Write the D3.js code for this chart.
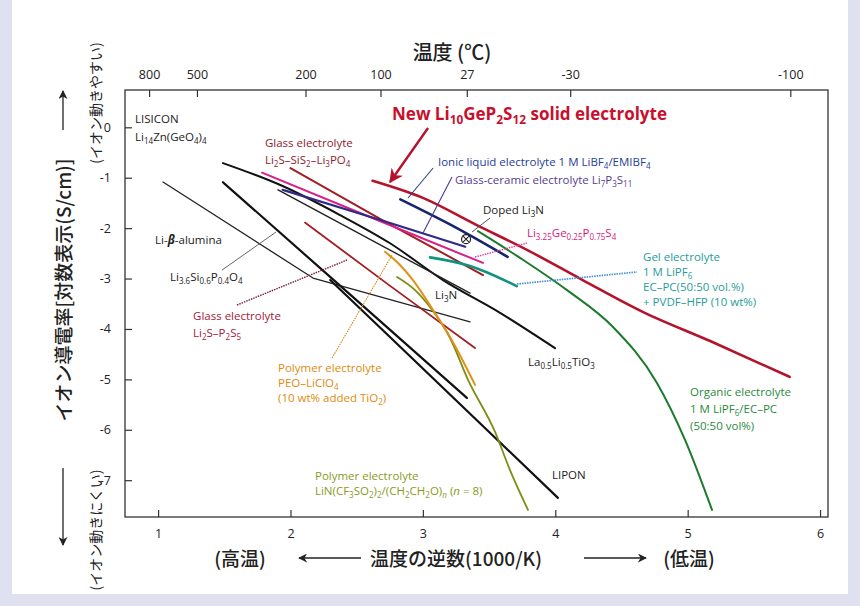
<!DOCTYPE html>
<html>
<head>
  <meta charset="utf-8"/>
  <title>Li conductivity</title>
  <style>
    body { margin: 0; background: #dfe1f1; }
    text { font-family: "Open Sans", "Noto Sans", sans-serif; }
    .jp { font-family: "Noto Sans CJK JP", sans-serif; }
  </style>
</head>
<body>
<div id="graph"></div>
<script src="https://cdn.jsdelivr.net/npm/d3@7/dist/d3.min.js"></script>
<script>
// axis ticks
var xTicks = [1, 2, 3, 4, 5, 6];
var yTicks = [0, -1, -2, -3, -4, -5, -6, -7];
var tempTicks = [800, 500, 200, 100, 27, -30, -100];

// series, points are [1000/T, log10 sigma]
var lgps = [[2.62, -1.06], [3.0, -1.40], [3.4, -1.93], [3.8, -2.45], [4.2, -3.02], [4.66, -3.66], [5.17, -4.24], [5.77, -4.95]];
var ionicLiquid = [[2.83, -1.43], [3.25, -1.99], [3.64, -2.57]];
var li7p3s11 = [[1.94, -1.24], [2.68, -1.84], [3.32, -2.37]];
var thioLisicon = [[1.785, -0.90], [2.6, -1.78], [3.454, -2.69]];
var glassSiS2 = [[2.0, -0.81], [2.7, -1.85], [3.454, -2.93]];
var glassP2S5 = [[2.11, -1.89], [2.75, -3.14], [3.394, -4.38]];
var betaAlumina = [[1.037, -1.085], [2.17, -2.99], [3.356, -3.86]];
var li36si = [[1.49, -1.09], [2.4, -3.2], [3.333, -5.37]];
var lipon = [[2.3, -3.03], [2.68, -3.98], [4.02, -7.35]];
var llto = [[1.49, -0.71], [1.936, -1.16], [2.374, -1.74], [2.752, -2.30], [3.152, -3.03], [3.583, -3.68], [3.998, -4.38]];
var li3n = [[1.906, -1.24], [3.356, -3.29]];
var gel = [[3.054, -2.58], [3.356, -2.75], [3.709, -3.15]];
var peo = [[2.714, -2.47], [2.827, -2.73], [2.925, -3.03], [3.076, -3.62], [3.205, -4.16], [3.394, -5.11]];
var peoTfsi = [[2.805, -2.97], [2.941, -3.23], [3.069, -3.62], [3.205, -4.18], [3.341, -5.01], [3.545, -6.04], [3.658, -6.80], [3.794, -7.59]];
var organic = [[3.416, -2.06], [3.734, -2.59], [4.089, -3.23], [4.436, -3.96], [4.768, -5.07], [4.98, -6.20], [5.184, -7.59]];
var dopedLi3n = [[3.326, -2.22]];

var W = 860, H = 606;
var x = d3.scaleLinear().domain([0.75, 6.06]).range([125, 828]);
var y = d3.scaleLinear().domain([-7.73, 0.74]).range([517, 90]);

var svg = d3.select("#graph").append("svg")
  .attr("width", W).attr("height", H);

svg.append("rect").attr("x", 12).attr("y", 0).attr("width", 836).attr("height", 594)
  .attr("fill", "#fff");

var defs = svg.append("defs");
function arrowMarker(id, color, size) {
  defs.append("marker").attr("id", id)
    .attr("viewBox", "0 0 10 10").attr("refX", 9).attr("refY", 5)
    .attr("markerWidth", size).attr("markerHeight", size)
    .attr("markerUnits", "userSpaceOnUse")
    .attr("orient", "auto")
    .append("path").attr("d", "M0,0 L10,5 L0,10 L3,5 Z").attr("fill", color);
}
arrowMarker("ahRed", "#b5132b", 14);
arrowMarker("ahBlack", "#222", 9);

// rich text: _{sub}, _{~italic sub}, *italic*, !bold italic!
function rich(sel, str, size) {
  var parts = str.split(/(_\{[^}]*\}|\*[^*]*\*|![^!]*!)/).filter(function(s){ return s.length; });
  var shift = 0;
  parts.forEach(function(p) {
    var t = sel.append("tspan");
    if (p.indexOf("_{") === 0) {
      var s = p.slice(2, -1), it = false;
      if (s[0] === "~") { s = s.slice(1); it = true; }
      var off = size * 0.25;
      t.text(s).attr("font-size", size * 0.7).attr("dy", off - shift);
      if (it) t.attr("font-style", "italic");
      shift = off;
    } else if (p[0] === "*") {
      t.text(p.slice(1, -1)).attr("font-style", "italic").attr("dy", -shift);
      shift = 0;
    } else if (p[0] === "!") {
      t.text(p.slice(1, -1)).attr("font-style", "italic").attr("font-weight", "bold").attr("dy", -shift);
      shift = 0;
    } else {
      t.text(p).attr("dy", -shift);
      shift = 0;
    }
  });
}

// frame
svg.append("rect").attr("x", x(0.75)).attr("y", y(0.74))
  .attr("width", x(6.06) - x(0.75)).attr("height", y(-7.73) - y(0.74))
  .attr("fill", "none").attr("stroke", "#333").attr("stroke-width", 1.3);

// axes (ticks inside)
var axB = svg.append("g").attr("transform", "translate(0," + y(-7.73) + ")")
  .call(d3.axisBottom(x).tickValues(xTicks).tickFormat(d3.format("d"))
    .tickSizeInner(-7).tickSizeOuter(0).tickPadding(12));
var axL = svg.append("g").attr("transform", "translate(" + x(0.75) + ",0)")
  .call(d3.axisLeft(y).tickValues(yTicks).tickSizeInner(-7).tickSizeOuter(0).tickPadding(14)
    .tickFormat(function(d){ return d === 0 ? "0" : String(d); }));
var axT = svg.append("g").attr("transform", "translate(0," + y(0.74) + ")")
  .call(d3.axisTop(x)
    .tickValues(tempTicks.map(function(t){ return 1000 / (t + 273.15); }))
    .tickFormat(function(d, i){ return String(tempTicks[i]); })
    .tickSizeInner(-7).tickSizeOuter(0).tickPadding(11));
[axB, axL, axT].forEach(function(a) {
  a.select(".domain").remove();
  a.selectAll("line").attr("stroke", "#333").attr("stroke-width", 1.2);
  a.selectAll("text").attr("font-size", 12.5).attr("fill", "#222")
    .style("font-family", "'Open Sans', sans-serif");
});

var plot = svg.append("g");
var line = d3.line().x(function(d){ return x(d[0]); }).y(function(d){ return y(d[1]); });

var series = [
  {d: betaAlumina, c: "#222", w: 1.3, curve: d3.curveLinear},
  {d: li36si, c: "#111", w: 2.2},
  {d: lipon, c: "#111", w: 2.2},
  {d: llto, c: "#111", w: 2.0},
  {d: li3n, c: "#222", w: 1.4},
  {d: glassP2S5, c: "#a31d24", w: 1.8},
  {d: glassSiS2, c: "#a31d24", w: 2.0},
  {d: thioLisicon, c: "#d81f86", w: 2.0},
  {d: li7p3s11, c: "#2f2a86", w: 2.2},
  {d: ionicLiquid, c: "#17256e", w: 2.6},
  {d: gel, c: "#0f937e", w: 2.6},
  {d: peoTfsi, c: "#7f8d14", w: 1.8},
  {d: peo, c: "#e39016", w: 2.0},
  {d: organic, c: "#1d7a2d", w: 2.0},
  {d: lgps, c: "#b5132b", w: 2.6}
];
series.forEach(function(s) {
  plot.append("path").datum(s.d)
    .attr("d", line.curve(s.curve || d3.curveMonotoneX)(s.d))
    .attr("fill", "none").attr("stroke", s.c).attr("stroke-width", s.w)
    .attr("stroke-linecap", "round").attr("stroke-linejoin", "round");
});

// doped Li3N marker (circled x)
plot.selectAll(".dop").data(dopedLi3n).enter().append("g")
  .attr("transform", function(d){ return "translate(" + x(d[0]) + "," + y(d[1]) + ")"; })
  .each(function() {
    var g = d3.select(this);
    g.append("circle").attr("r", 4.5).attr("fill", "#fff").attr("stroke", "#222").attr("stroke-width", 1.2);
    g.append("path").attr("d", "M-3,-3L3,3M-3,3L3,-3").attr("stroke", "#222").attr("stroke-width", 1.1);
  });

// leader lines [x1,y1,x2,y2] in data units
var leaders = [
  {p: [1.483, -2.831, 1.891, -2.077], c: "#555", w: 0.9, dash: null},
  {p: [1.596, -3.525, 2.427, -2.632], c: "#7a1c3a", w: 1.4, dash: "1.5,1"},
  {p: [2.314, -4.576, 2.767, -2.533], c: "#d48a1a", w: 1.1, dash: "1.5,1"},
  {p: [2.888, -1.402, 3.077, -0.807], c: "#2a3f9a", w: 1.1, dash: null},
  {p: [3.001, -2.097, 3.220, -0.986], c: "#4a3a8e", w: 1.1, dash: null},
  {p: [3.371, -2.077, 3.507, -1.799], c: "#555", w: 1.0, dash: null},
  {p: [3.394, -2.573, 3.786, -2.295], c: "#e0409a", w: 1.4, dash: "1.5,1"},
  {p: [3.711, -3.108, 4.617, -2.870], c: "#3b8fd8", w: 1.6, dash: "1.5,1"}
];
plot.selectAll(".leader").data(leaders).enter().append("line")
  .attr("x1", function(d){ return x(d.p[0]); }).attr("y1", function(d){ return y(d.p[1]); })
  .attr("x2", function(d){ return x(d.p[2]); }).attr("y2", function(d){ return y(d.p[3]); })
  .attr("stroke", function(d){ return d.c; }).attr("stroke-width", function(d){ return d.w; })
  .attr("stroke-dasharray", function(d){ return d.dash; });

// LGPS pointer arrow
plot.append("line")
  .attr("x1", x(3.039)).attr("y1", y(-0.014)).attr("x2", x(2.752)).attr("y2", y(-1.085))
  .attr("stroke", "#b5132b").attr("stroke-width", 2.4).attr("marker-end", "url(#ahRed)");

// labels: [text, x, y, color]
var labels = [
  ["LISICON", 0.826, 0.085, "#222"],
  ["Li_{14}Zn(GeO_{4})_{4}", 0.826, -0.272, "#222"],
  ["Glass electrolyte", 1.807, -0.391, "#8e1b2e"],
  ["Li_{2}S\u2013SiS_{2}\u2013Li_{3}PO_{4}", 1.807, -0.728, "#8e1b2e"],
  ["Li-!\u03b2!-alumina", 0.977, -2.315, "#222"],
  ["Li_{3.6}Si_{0.6}P_{0.4}O_{4}", 1.09, -3.049, "#222"],
  ["Glass electrolyte", 1.264, -3.823, "#a3203c"],
  ["Li_{2}S\u2013P_{2}S_{5}", 1.264, -4.16, "#a3203c"],
  ["Polymer electrolyte", 1.906, -4.854, "#e08a0c"],
  ["PEO\u2013LiClO_{4}", 1.906, -5.152, "#e08a0c"],
  ["(10 wt% added TiO_{2})", 1.906, -5.449, "#e08a0c"],
  ["Polymer electrolyte", 2.185, -6.996, "#8a9a1e"],
  ["LiN(CF_{3}SO_{2})_{2}/(CH_{2}CH_{2}O)_{~n} (*n* = 8)", 2.185, -7.294, "#8a9a1e"],
  ["Li_{3}N", 3.092, -3.406, "#222"],
  ["La_{0.5}Li_{0.5}TiO_{3}", 3.794, -4.735, "#222"],
  ["LIPON", 3.975, -6.977, "#222"],
  ["Organic electrolyte", 5.018, -5.33, "#2a8a3e"],
  ["1 M LiPF_{6}/EC\u2013PC", 5.018, -5.667, "#2a8a3e"],
  ["(50:50 vol%)", 5.018, -6.005, "#2a8a3e"],
  ["Gel electrolyte", 4.663, -2.652, "#1f9d9a"],
  ["1 M LiPF_{6}", 4.663, -2.95, "#1f9d9a"],
  ["EC\u2013PC(50:50 vol.%)", 4.663, -3.247, "#1f9d9a"],
  ["+ PVDF\u2013HFP (10 wt%)", 4.663, -3.545, "#1f9d9a"],
  ["Ionic liquid electrolyte 1 M LiBF_{4}/EMIBF_{4}", 3.114, -0.768, "#26409a"],
  ["Glass-ceramic electrolyte Li_{7}P_{3}S_{11}", 3.243, -1.125, "#553c90"],
  ["Doped Li_{3}N", 3.454, -1.72, "#222"],
  ["Li_{3.25}Ge_{0.25}P_{0.75}S_{4}", 3.786, -2.176, "#d6197a"]
];
labels.forEach(function(l) {
  var t = plot.append("text").attr("x", x(l[1])).attr("y", y(l[2]))
    .attr("font-size", 11.5).attr("fill", l[3]);
  rich(t, l[0], 11.5);
});
var big = plot.append("text").attr("x", x(2.767)).attr("y", y(0.145))
  .attr("font-size", 17).attr("font-weight", "bold").attr("fill", "#c8102e");
rich(big, "New Li_{10}GeP_{2}S_{12} solid electrolyte", 17);

// axis titles
svg.append("text").attr("class", "jp").attr("x", 452).attr("y", 60)
  .attr("text-anchor", "middle").attr("font-size", 20).attr("font-weight", 500)
  .attr("fill", "#222").text("温度 (℃)");

var bt = 566;
[["(高温)", 240], ["温度の逆数(1000/K)", 456], ["(低温)", 689]].forEach(function(b) {
  svg.append("text").attr("class", "jp").attr("x", b[1]).attr("y", bt).attr("text-anchor", "middle")
    .attr("font-size", 19).attr("font-weight", 500).attr("fill", "#222").text(b[0]);
});
svg.append("line").attr("x1", 361).attr("y1", 558).attr("x2", 299).attr("y2", 558)
  .attr("stroke", "#222").attr("stroke-width", 1.3).attr("marker-end", "url(#ahBlack)");
svg.append("line").attr("x1", 584).attr("y1", 558).attr("x2", 646).attr("y2", 558)
  .attr("stroke", "#222").attr("stroke-width", 1.3).attr("marker-end", "url(#ahBlack)");

// vertical title
svg.append("text").attr("class", "jp")
  .attr("transform", "translate(71,290) rotate(-90)")
  .attr("text-anchor", "middle").attr("font-size", 19).attr("font-weight", 500).attr("fill", "#222")
  .text("イオン導電率[対数表示(S/cm)]");
svg.append("line").attr("x1", 63).attr("y1", 130).attr("x2", 63).attr("y2", 91)
  .attr("stroke", "#222").attr("stroke-width", 1.3).attr("marker-end", "url(#ahBlack)");
svg.append("line").attr("x1", 63).attr("y1", 468).attr("x2", 63).attr("y2", 545)
  .attr("stroke", "#222").attr("stroke-width", 1.3).attr("marker-end", "url(#ahBlack)");
svg.append("text").attr("class", "jp")
  .attr("transform", "translate(101,103) rotate(-90)")
  .attr("text-anchor", "middle").attr("font-size", 14).attr("fill", "#222")
  .text("(イオン動きやすい)");
svg.append("text").attr("class", "jp")
  .attr("transform", "translate(101,530) rotate(-90)")
  .attr("text-anchor", "middle").attr("font-size", 14).attr("fill", "#222")
  .text("(イオン動きにくい)");
</script>
</body>
</html>
